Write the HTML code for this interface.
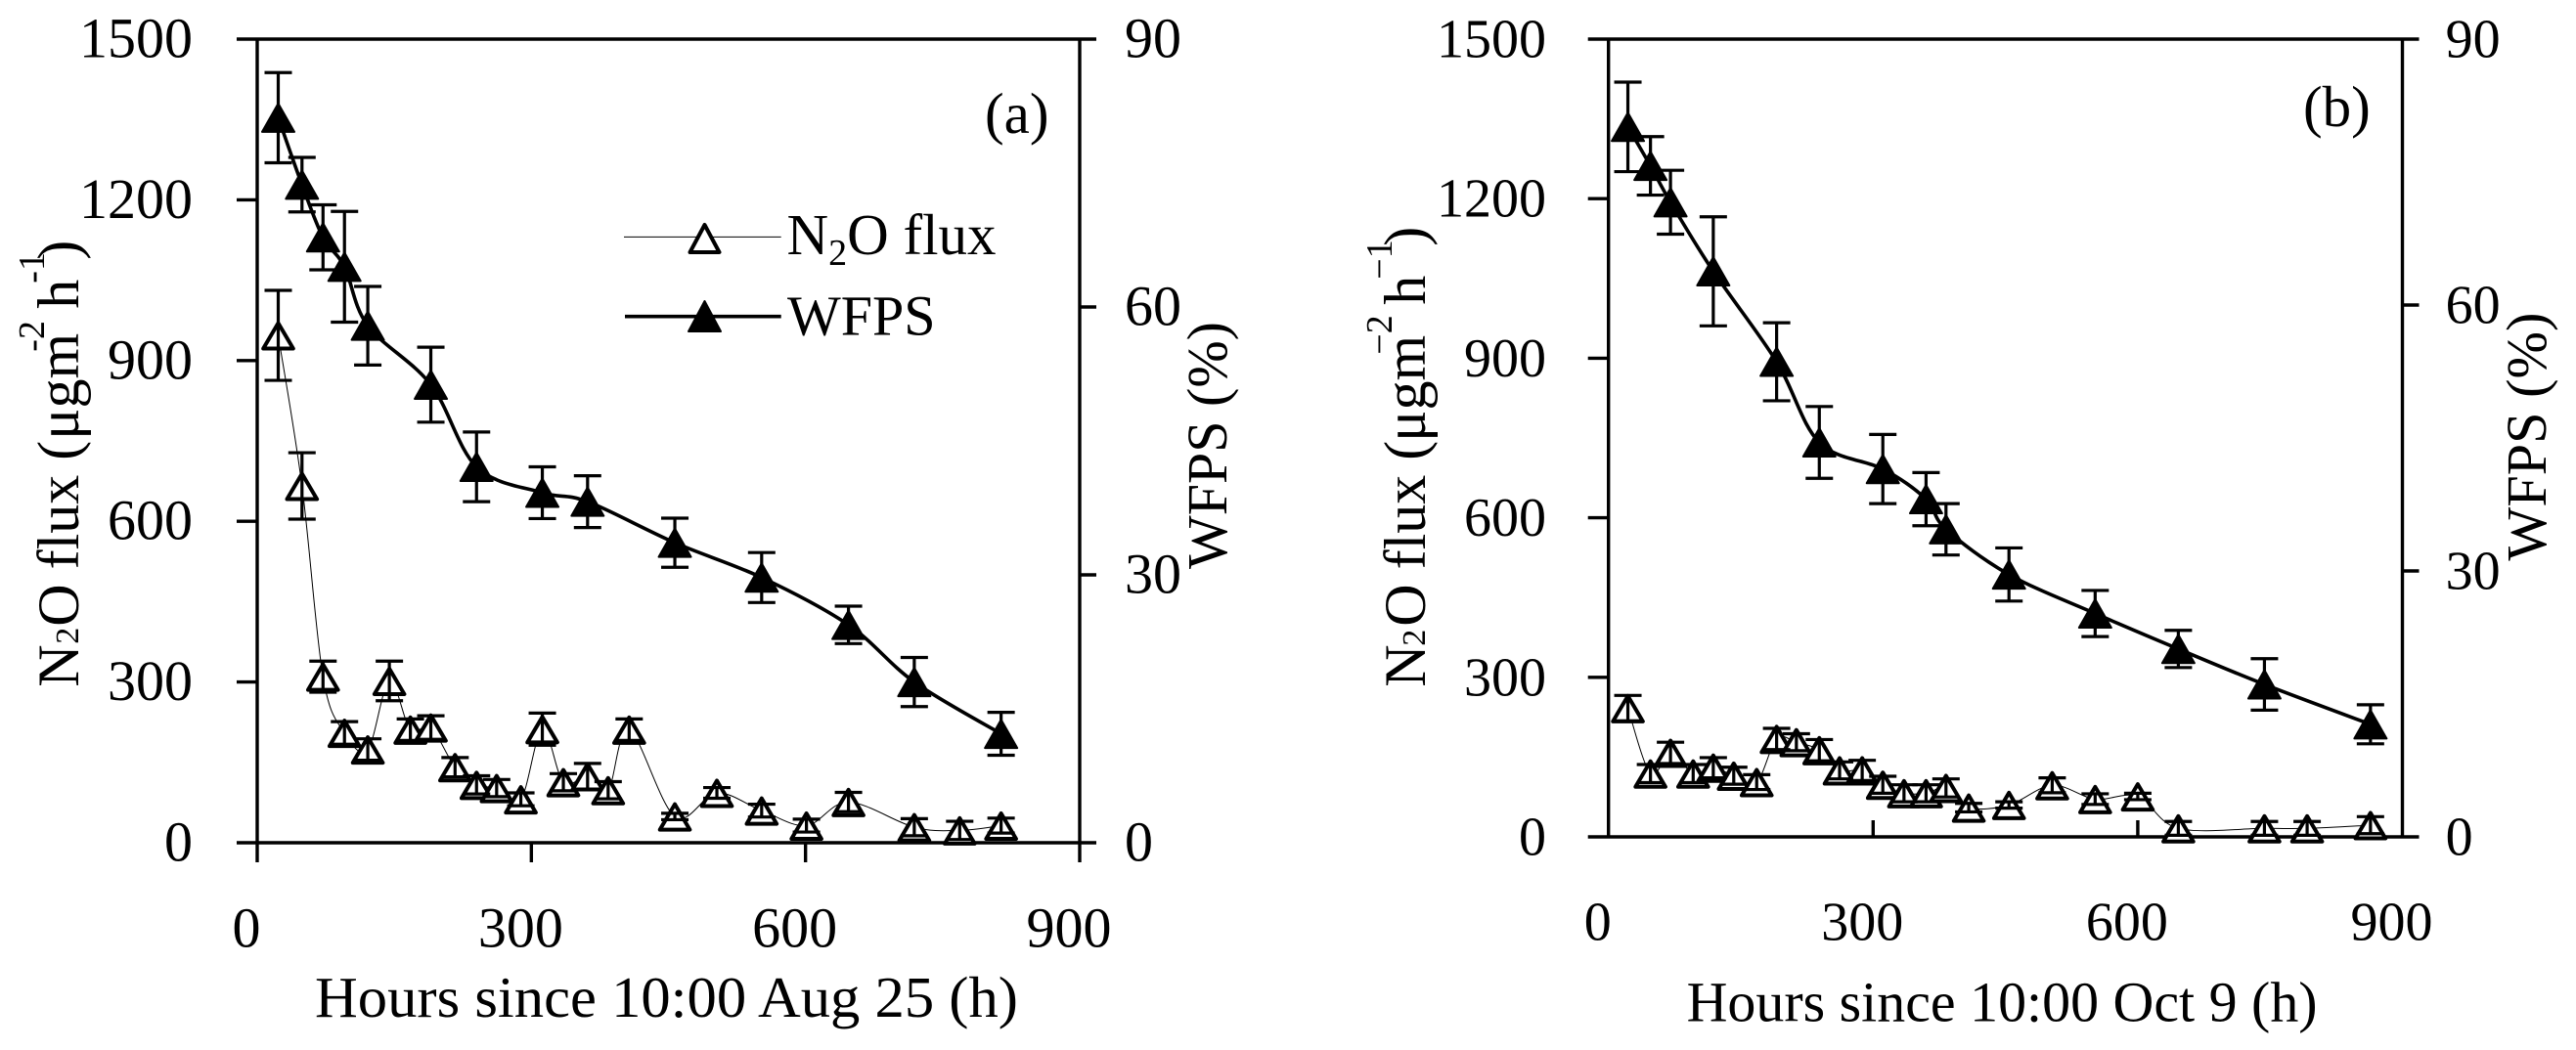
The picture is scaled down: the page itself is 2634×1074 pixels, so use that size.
<!DOCTYPE html>
<html lang="en">
<head>
<meta charset="utf-8">
<title>N2O flux and WFPS versus time</title>
<style>
html,body{margin:0;padding:0;background:#fff;}
svg{display:block;}
text{font-family:"Liberation Serif","Times New Roman",serif;fill:#000;}
</style>
</head>
<body>
<svg id="chart" xmlns="http://www.w3.org/2000/svg" width="2634" height="1074" viewBox="0 0 2634 1074">
  <rect x="0" y="0" width="2634" height="1074" fill="#fff"/>

  <g id="panel-a"></g>
  <g id="panel-b"></g>

  <text x="1007" y="136" font-size="59">(a)</text>
  <text x="2355" y="129" font-size="59">(b)</text>

  <text x="322" y="1040" font-size="59" textLength="719" lengthAdjust="spacingAndGlyphs">Hours since 10:00 Aug 25 (h)</text>
  <text x="1724.6" y="1044.7" font-size="58" textLength="645" lengthAdjust="spacingAndGlyphs">Hours since 10:00 Oct 9 (h)</text>

  <text transform="translate(80,702.7) rotate(-90)" font-size="60"><tspan x="0">N</tspan><tspan x="44" font-size="34">2</tspan><tspan x="62">O flux (</tspan><tspan x="253">μgm</tspan><tspan x="343" y="-35" font-size="38">-2</tspan><tspan x="387" y="0">h</tspan><tspan x="413" y="-35" font-size="38">-1</tspan><tspan x="437" y="0">)</tspan></text>
  <text transform="translate(1456.8,702.7) rotate(-90)" font-size="60"><tspan x="0">N</tspan><tspan x="42" font-size="34">2</tspan><tspan x="62">O flux (</tspan><tspan x="251">μgm</tspan><tspan x="340" y="-34" font-size="38">−2</tspan><tspan x="391" y="0">h</tspan><tspan x="417" y="-34" font-size="38">−1</tspan><tspan x="451" y="0">)</tspan></text>

  <text transform="translate(1254,582) rotate(-90)" font-size="58" textLength="253" lengthAdjust="spacingAndGlyphs">WFPS (%)</text>
  <text transform="translate(2603,573.6) rotate(-90)" font-size="58" textLength="254" lengthAdjust="spacingAndGlyphs">WFPS (%)</text>

  <g>
    <g>
      <line x1="638" y1="242.4" x2="798.7" y2="242.4" stroke="#000" stroke-width="1"/>
      <polygon points="720.5,230 735.5,258 705.5,258" fill="#fff" stroke="#000" stroke-width="4" stroke-linejoin="round"/>
      <text x="804.5" y="260" font-size="59">N<tspan font-size="38" dy="11">2</tspan><tspan dy="-11">O flux</tspan></text>
    </g>
    <g>
      <line x1="639" y1="323.7" x2="798.7" y2="323.7" stroke="#000" stroke-width="3.6"/>
      <polygon points="720.5,308 737,339 704,339" fill="#000" stroke="#000" stroke-width="2" stroke-linejoin="round"/>
      <text x="805" y="342.6" font-size="58">WFPS</text>
    </g>
  </g>
</svg>

<script>
// ---- tick labels ----
const xTickValues = [0, 300, 600, 900];
const fluxTickValues = [0, 300, 600, 900, 1200, 1500];
const wfpsTickValues = [0, 30, 60, 90];

// ---- panel (a) data ----
const aWfpsHours = [23, 49, 72, 95.5, 121, 190, 240, 312, 361.5, 457, 552, 647, 719, 814];
const aWfpsValues = [81.2, 73.7, 67.8, 64.5, 57.9, 51.3, 42.1, 39.2, 38.2, 33.6, 29.7, 24.4, 18, 12.2];
const aWfpsErrors = [5.05, 3.05, 3.64, 6.2, 4.4, 4.2, 3.9, 2.9, 2.9, 2.75, 2.8, 2.1, 2.75, 2.4];
const aFluxHours = [23, 49, 72, 95.5, 121, 144.6, 167.6, 190, 216.5, 240, 262, 288.5, 312, 335, 361.5, 384, 407, 457, 503, 552, 601, 647, 719, 768.7, 814];
const aFluxValues = [947, 666, 310, 205, 174, 302, 211, 215, 141, 108, 102, 81, 212, 113, 124, 98, 211, 49, 93, 60, 32, 76, 29, 23, 32];
const aFluxErrors = [84, 62, 29, 21, 20, 37, 20, 22, 18, 17, 16, 12, 30, 16, 24, 16, 20, 6, 10, 12, 12, 18, 16, 17, 14];

// ---- panel (b) data ----
const bWfpsHours = [22, 47.6, 70.3, 118.8, 190.6, 239, 311, 360, 382.6, 454, 551.7, 646, 743.6, 863.8];
const bWfpsValues = [80.1, 75.7, 71.6, 63.8, 53.6, 44.5, 41.5, 38.1, 34.7, 29.6, 25.2, 21.2, 17.2, 12.7];
const bWfpsErrors = [5.05, 3.3, 3.6, 6.15, 4.4, 4.05, 3.9, 3, 2.9, 3, 2.6, 2.1, 2.9, 2.2];
const bFluxHours = [22, 47.6, 70.3, 96, 118.8, 142, 168, 190.6, 213, 239, 262, 287.6, 311, 335, 360, 382.6, 408.4, 454, 503, 551.7, 600, 646, 743.6, 792, 863.8];
const bFluxValues = [242, 119, 158, 119, 130, 115, 103, 184, 178, 163, 125, 125, 98, 82, 82, 92, 55, 60, 97, 71, 76, 16, 16, 16, 22];
const bFluxErrors = [24, 17, 20, 17, 19, 16, 14, 20, 16, 20, 16, 19, 16, 16, 16, 17, 8, 6, 14, 10, 6, 13, 13, 13, 16];

const SVG_NS = 'http://www.w3.org/2000/svg';
const AXIS_W = 3.4;

function shape(tag, attrs, parent) {
  const el = document.createElementNS(SVG_NS, tag);
  for (const k in attrs) el.setAttribute(k, attrs[k]);
  parent.appendChild(el);
  return el;
}

// Excel-like smoothed polyline through data points
function smoothPath(pts) {
  let d = 'M' + pts[0][0].toFixed(2) + ' ' + pts[0][1].toFixed(2);
  for (let i = 0; i < pts.length - 1; i++) {
    const p0 = pts[Math.max(i - 1, 0)], p1 = pts[i], p2 = pts[i + 1], p3 = pts[Math.min(i + 2, pts.length - 1)];
    const t = 1 / 6;
    d += ' C' + (p1[0] + (p2[0] - p0[0]) * t).toFixed(2) + ' ' + (p1[1] + (p2[1] - p0[1]) * t).toFixed(2) +
         ' ' + (p2[0] - (p3[0] - p1[0]) * t).toFixed(2) + ' ' + (p2[1] - (p3[1] - p1[1]) * t).toFixed(2) +
         ' ' + p2[0].toFixed(2) + ' ' + p2[1].toFixed(2);
  }
  return d;
}

function drawSeries(root, xs, ys, errs, kind, sx, sy) {
  const pts = xs.map((h, i) => [sx(h), sy(ys[i])]);
  const open = kind === 'flux';

  const line = shape('path', {
    d: smoothPath(pts), fill: 'none', stroke: '#000',
    'stroke-width': open ? 1 : 3.6, 'stroke-linejoin': 'round'
  }, root);
  
  

  pts.forEach((p, i) => {
    const m = shape('polygon', {
      points: open
        ? p[0] + ',' + (p[1] - 12.5) + ' ' + (p[0] + 15.3) + ',' + (p[1] + 13.5) + ' ' + (p[0] - 15.3) + ',' + (p[1] + 13.5)
        : p[0] + ',' + (p[1] - 14.5) + ' ' + (p[0] + 16.5) + ',' + (p[1] + 14.5) + ' ' + (p[0] - 16.5) + ',' + (p[1] + 14.5),
      fill: open ? '#fff' : '#000', stroke: '#000',
      'stroke-width': open ? 4 : 2, 'stroke-linejoin': 'round'
    }, root);
    
    
  });

  pts.forEach((p, i) => {
    const yTop = sy(ys[i] + errs[i]), yBot = sy(ys[i] - errs[i]);
    const eb = shape('path', {
      d: 'M' + p[0] + ' ' + yTop + 'V' + yBot +
         'M' + (p[0] - 14) + ' ' + yTop + 'H' + (p[0] + 14) +
         'M' + (p[0] - 14) + ' ' + yBot + 'H' + (p[0] + 14),
      fill: 'none', stroke: '#000', 'stroke-width': 3.2
    }, root);
    
    
  });
}

function drawPanel(cfg) {
  const root = document.getElementById(cfg.id);
  const sx = h => cfg.left + (h / 900) * (cfg.right - cfg.left);
  const syFlux = v => cfg.bottom - (v / 1500) * (cfg.bottom - cfg.top);
  const syWfps = v => cfg.bottom - (v / 90) * (cfg.bottom - cfg.top);
  const axisEnd = cfg.xTickDir > 0 ? cfg.bottom + 20 : cfg.bottom;

  // frame
  const topAxis = shape('line', { x1: cfg.left - 21, x2: cfg.right + 17, y1: cfg.top, y2: cfg.top, stroke: '#000', 'stroke-width': AXIS_W }, root);
  
  
  const bottomAxis = shape('line', { x1: cfg.left - 21, x2: cfg.right + 17, y1: cfg.bottom, y2: cfg.bottom, stroke: '#000', 'stroke-width': AXIS_W }, root);
  
  
  const leftAxis = shape('line', { x1: cfg.left, x2: cfg.left, y1: cfg.top, y2: axisEnd, stroke: '#000', 'stroke-width': AXIS_W }, root);
  
  
  const rightAxis = shape('line', { x1: cfg.right, x2: cfg.right, y1: cfg.top, y2: axisEnd, stroke: '#000', 'stroke-width': AXIS_W }, root);
  
  

  // x ticks + labels
  xTickValues.forEach(v => {
    const x = sx(v);
    if (v > 0 && v < 900) {
      const t = shape('line', { x1: x, x2: x, y1: cfg.bottom, y2: cfg.bottom + cfg.xTickDir * cfg.xTickLen, stroke: '#000', 'stroke-width': AXIS_W }, root);
      
      
    }
    const lab = shape('text', { x: x - 11, y: cfg.xLabelY, 'font-size': cfg.fontSize, 'text-anchor': 'middle' }, root);
    
    
    lab.textContent = v;
  });

  // left ticks + labels
  fluxTickValues.forEach(v => {
    const y = syFlux(v);
    if (v > 0 && v < 1500) {
      const t = shape('line', { x1: cfg.left - 21, x2: cfg.left, y1: y, y2: y, stroke: '#000', 'stroke-width': AXIS_W }, root);
      
      
    }
    const lab = shape('text', { x: cfg.fluxLabelX, y: y + 18.5, 'font-size': cfg.fontSize, 'text-anchor': 'end' }, root);
    
    
    lab.textContent = v;
  });

  // right ticks + labels
  wfpsTickValues.forEach(v => {
    const y = syWfps(v);
    if (v > 0 && v < 90) {
      const t = shape('line', { x1: cfg.right, x2: cfg.right + 17, y1: y, y2: y, stroke: '#000', 'stroke-width': AXIS_W }, root);
      
      
    }
    const lab = shape('text', { x: cfg.wfpsLabelX, y: y + 18.5, 'font-size': cfg.fontSize }, root);
    
    
    lab.textContent = v;
  });

  drawSeries(root, cfg.fluxHours, cfg.flux, cfg.fluxErr, 'flux', sx, syFlux);
  drawSeries(root, cfg.wfpsHours, cfg.wfps, cfg.wfpsErr, 'wfps', sx, syWfps);
}

drawPanel({
  id: 'panel-a', left: 263, right: 1104, top: 40, bottom: 862,
  xTickDir: 1, xTickLen: 20, xLabelY: 968.6, fontSize: 58, fluxLabelX: 197, wfpsLabelX: 1150,
  wfpsHours: aWfpsHours, wfps: aWfpsValues, wfpsErr: aWfpsErrors,
  fluxHours: aFluxHours, flux: aFluxValues, fluxErr: aFluxErrors
});
drawPanel({
  id: 'panel-b', left: 1644.7, right: 2456.5, top: 40, bottom: 856,
  xTickDir: -1, xTickLen: 17, xLabelY: 961.7, fontSize: 56, fluxLabelX: 1581, wfpsLabelX: 2500.6,
  wfpsHours: bWfpsHours, wfps: bWfpsValues, wfpsErr: bWfpsErrors,
  fluxHours: bFluxHours, flux: bFluxValues, fluxErr: bFluxErrors
});
</script>
</body>
</html>
